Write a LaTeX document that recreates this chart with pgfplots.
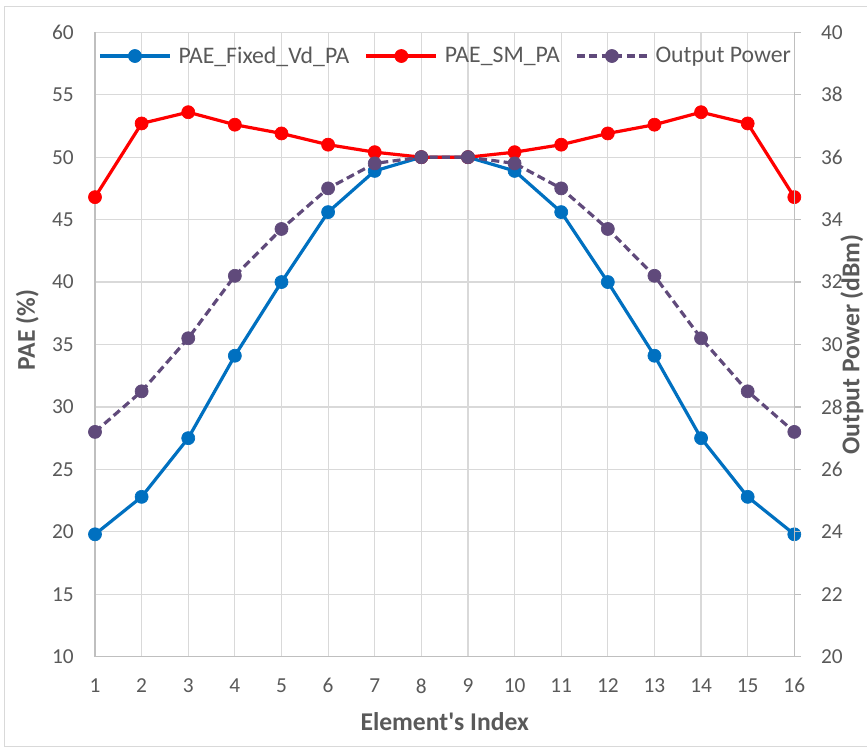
\documentclass[border=0pt]{standalone}
\usepackage{pgfplots}
\pgfplotsset{compat=1.18}
\usepackage{fontspec}
\setmainfont{Carlito}
\definecolor{pblue}{HTML}{0070C0}
\definecolor{pred}{HTML}{FF0000}
\definecolor{ppurple}{HTML}{604A7B}
\definecolor{gridc}{HTML}{D9D9D9}
\definecolor{axisc}{HTML}{BFBFBF}
\definecolor{txt}{HTML}{595959}
\newcommand{\titlefont}{\fontsize{19.2}{23}\selectfont\bfseries}
\begin{document}
\begin{tikzpicture}
\useasboundingbox (-71.25pt,-68.475pt) rectangle (579pt,492.525pt);
\draw[gridc, line width=0.75pt] (600pt,487.275pt) -- (-67.875pt,487.275pt) -- (-67.875pt,-67.35pt) -- (600pt,-67.35pt);
\pgfplotsset{
  every axis/.append style={
    scale only axis, width=524.475pt, height=468.3pt,
    at={(0,0)}, anchor=south west, clip=false,
    xmin=1, xmax=16,
    /pgf/number format/assume math mode=true,
    tick label style={inner sep=0pt, text=txt, font=\fontsize{16}{19}\selectfont},
  },
}
\begin{axis}[
  axis x line*=bottom, axis y line*=left,
  axis line style={axisc, line width=1pt},
  ymin=10, ymax=60, ytick={10,15,...,60},
  xtick={1,...,16},
  grid=major, grid style={gridc, line width=0.9pt},
  major tick length=0pt,
  yticklabel style={anchor=east, xshift=-15.75pt},
  xticklabel style={anchor=north, yshift=-16.2pt},
  xlabel={Element\textquotesingle s Index},
  every axis x label/.style={at={(axis description cs:0.5,-0.1174)}, anchor=base, text=txt, font=\titlefont},
  ylabel={PAE (\%)},
  every axis y label/.style={at={(axis description cs:-0.0858,0.523)}, rotate=90, anchor=base, text=txt, font=\titlefont},
]
\addplot[pblue, line width=2.4pt, mark=*, mark size=4.9pt, mark options={solid, fill=pblue, line width=0.5pt}] coordinates {
(1,19.8) (2,22.8) (3,27.5) (4,34.1) (5,40.0) (6,45.6) (7,48.9) (8,50.0)
(9,50.0) (10,48.9) (11,45.6) (12,40.0) (13,34.1) (14,27.5) (15,22.8) (16,19.8)};
\addplot[pred, line width=2.4pt, mark=*, mark size=4.9pt, mark options={solid, fill=pred, line width=0.5pt}] coordinates {
(1,46.8) (2,52.7) (3,53.6) (4,52.6) (5,51.9) (6,51.0) (7,50.4) (8,50.0)
(9,50.0) (10,50.4) (11,51.0) (12,51.9) (13,52.6) (14,53.6) (15,52.7) (16,46.8)};
\end{axis}
\begin{axis}[
  axis x line=none, axis y line*=right,
  axis line style={axisc, line width=1pt},
  ymin=20, ymax=40, ytick={20,22,...,40},
  tick align=outside, major tick length=4.9pt,
  ytick style={axisc, line width=1pt},
  yticklabel style={anchor=west, xshift=15pt},
  ylabel={Output Power (dBm)},
  every axis y label/.style={at={(axis description cs:1.093,0.5)}, rotate=90, anchor=base, text=txt, font=\titlefont},
  legend columns=3,
  legend image code/.code={\draw[mark repeat=2, mark phase=2, #1] plot coordinates {(0pt,0pt) (26.25pt,0pt) (52.5pt,0pt)};},
  legend style={draw=none, fill=none, inner sep=0pt, at={(0.5,0.962)}, anchor=center,
    font=\fontsize{17.8}{21}\selectfont, text=txt,
    nodes={inner sep=0pt},
    /tikz/every odd column/.append style={column sep=5.25pt},
    /tikz/every even column/.append style={column sep=11.6pt}},
]
\addlegendimage{pblue, line width=2.4pt, mark=*, mark size=4.9pt, mark options={solid, fill=pblue, line width=0.5pt}}
\addlegendentry{PAE\_Fixed\_Vd\_PA}
\addlegendimage{pred, line width=2.4pt, mark=*, mark size=4.9pt, mark options={solid, fill=pred, line width=0.5pt}}
\addlegendentry{PAE\_SM\_PA}
\addplot[ppurple, line width=2.4pt, dash pattern=on 6pt off 3.3pt, mark=*, mark size=4.9pt, mark options={solid, fill=ppurple, line width=0.5pt}] coordinates {
(1,27.2) (2,28.5) (3,30.2) (4,32.2) (5,33.7) (6,35.0) (7,35.8) (8,36.0)
(9,36.0) (10,35.8) (11,35.0) (12,33.7) (13,32.2) (14,30.2) (15,28.5) (16,27.2)};
\addlegendentry{Output Power}
\end{axis}
\end{tikzpicture}
\end{document}
